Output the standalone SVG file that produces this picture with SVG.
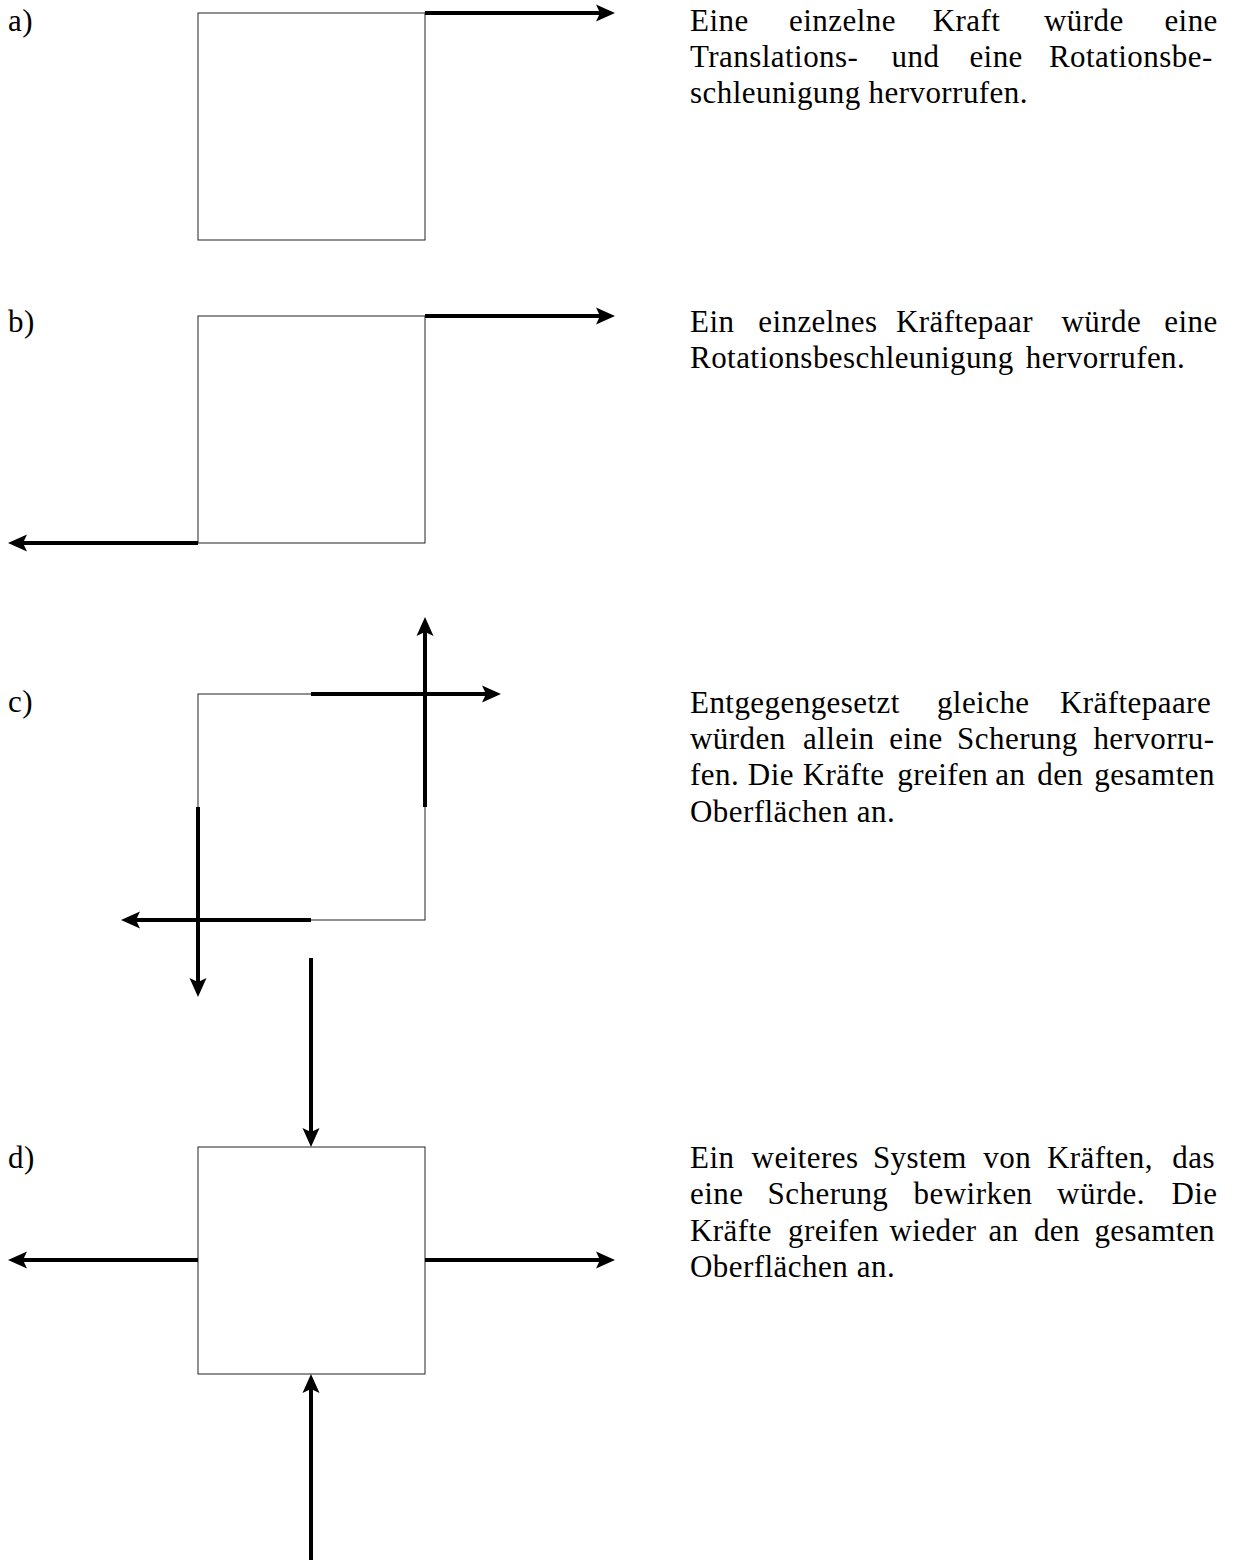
<svg xmlns="http://www.w3.org/2000/svg" width="1234" height="1560" viewBox="0 0 1234 1560">
<style>
.box{fill:none;stroke:#222;stroke-width:1}
.force{fill:none;stroke:#000;stroke-width:4;stroke-linecap:butt;marker-end:url(#ah)}
.txt{font-family:"Liberation Serif","Times New Roman",serif;font-size:31px;fill:#000;letter-spacing:0.45px}
</style>
<defs>
<marker id="ah" markerUnits="userSpaceOnUse" markerWidth="22" markerHeight="20" viewBox="0 -10 22 20" refX="4" refY="0" orient="auto" overflow="visible">
<path d="M0,-8.5 L19,0 L0,8.5 L4,0 Z" fill="#000"/>
</marker>
</defs>
<rect width="1234" height="1560" fill="#fff"/>

<g id="body-a"><rect class="box" x="198" y="13" width="227" height="227"/></g>
<g id="body-b"><rect class="box" x="198" y="316" width="227" height="227"/></g>
<g id="body-c"><rect class="box" x="198" y="694" width="227" height="226"/></g>
<g id="body-d"><rect class="box" x="198" y="1147" width="227" height="227"/></g>

<g id="connectors">
<line class="force" x1="425" y1="13" x2="600" y2="13"/>
<line class="force" x1="425" y1="316" x2="600" y2="316"/>
<line class="force" x1="198" y1="543" x2="23" y2="543"/>
<line class="force" x1="311" y1="694" x2="486" y2="694"/>
<line class="force" x1="425" y1="807" x2="425" y2="632"/>
<line class="force" x1="198" y1="807" x2="198" y2="982"/>
<line class="force" x1="311" y1="920" x2="136" y2="920"/>
<line class="force" x1="311" y1="958" x2="311" y2="1132"/>
<line class="force" x1="198" y1="1260" x2="23" y2="1260"/>
<line class="force" x1="425" y1="1260" x2="600" y2="1260"/>
<line class="force" x1="311" y1="1560" x2="311" y2="1389"/>
</g>

<g id="labels">
<text class="txt" x="8" y="31">a)</text>
<text class="txt" x="8" y="332">b)</text>
<text class="txt" x="8" y="712">c)</text>
<text class="txt" x="8" y="1168">d)</text>
</g>

<g id="text-a">
<text class="txt" y="31"><tspan x="690">Eine</tspan> <tspan x="789">einzelne</tspan> <tspan x="932.7">Kraft</tspan> <tspan x="1044">würde</tspan> <tspan x="1164.4">eine</tspan></text>
<text class="txt" y="67"><tspan x="690">Translations-</tspan> <tspan x="891.6">und</tspan> <tspan x="969.4">eine</tspan> <tspan x="1048.9">Rotationsbe-</tspan></text>
<text class="txt" y="103"><tspan x="690">schleunigung</tspan> <tspan x="868.5">hervorrufen.</tspan></text>
</g>

<g id="text-b">
<text class="txt" y="332"><tspan x="690">Ein</tspan> <tspan x="758.2">einzelnes</tspan> <tspan x="896">Kräftepaar</tspan> <tspan x="1061.4">würde</tspan> <tspan x="1164.2">eine</tspan></text>
<text class="txt" y="368"><tspan x="690">Rotationsbeschleunigung</tspan> <tspan x="1025.8">hervorrufen.</tspan></text>
</g>

<g id="text-c">
<text class="txt" y="712.5"><tspan x="690">Entgegengesetzt</tspan> <tspan x="936.9">gleiche</tspan> <tspan x="1059.9">Kräftepaare</tspan></text>
<text class="txt" y="749"><tspan x="690">würden</tspan> <tspan x="803">allein</tspan> <tspan x="889.2">eine</tspan> <tspan x="957.1">Scherung</tspan> <tspan x="1093.4">hervorru-</tspan></text>
<text class="txt" y="785.3"><tspan x="690">fen.</tspan> <tspan x="747.8">Die</tspan> <tspan x="802.7">Kräfte</tspan> <tspan x="897.3">greifen</tspan> <tspan x="995.2">an</tspan> <tspan x="1037.2">den</tspan> <tspan x="1094.2">gesamten</tspan></text>
<text class="txt" y="821.6"><tspan x="690">Oberflächen</tspan> <tspan x="856.8">an.</tspan></text>
</g>

<g id="text-d">
<text class="txt" y="1168"><tspan x="690">Ein</tspan> <tspan x="751.6">weiteres</tspan> <tspan x="872.9">System</tspan> <tspan x="983.3">von</tspan> <tspan x="1046.9">Kräften,</tspan> <tspan x="1172.3">das</tspan></text>
<text class="txt" y="1204.3"><tspan x="690">eine</tspan> <tspan x="767.6">Scherung</tspan> <tspan x="913.6">bewirken</tspan> <tspan x="1057.1">würde.</tspan> <tspan x="1171.4">Die</tspan></text>
<text class="txt" y="1240.6"><tspan x="690">Kräfte</tspan> <tspan x="788.1">greifen</tspan> <tspan x="889.5">wieder</tspan> <tspan x="988.4">an</tspan> <tspan x="1033.9">den</tspan> <tspan x="1094.4">gesamten</tspan></text>
<text class="txt" y="1276.9"><tspan x="690">Oberflächen</tspan> <tspan x="856.8">an.</tspan></text>
</g>
</svg>
